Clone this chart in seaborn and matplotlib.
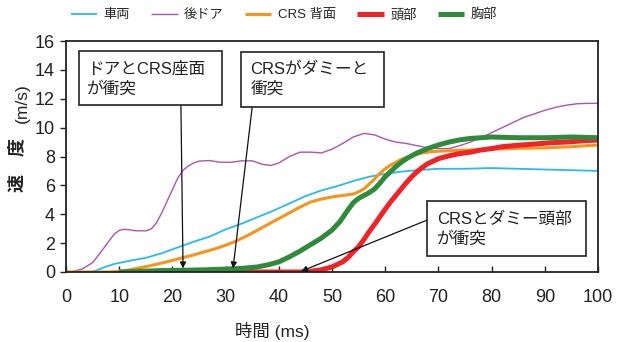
import matplotlib
matplotlib.use("Agg")
import matplotlib.pyplot as plt
from matplotlib.patches import Rectangle
import seaborn as sns
import pandas as pd

# Velocity traces (time in ms, speed in m/s)
vehicle_t = [0, 5, 7, 9, 12, 15, 18, 21, 24, 27, 30, 33, 36, 39, 42, 45, 48, 51, 54, 57,
             60, 63, 66, 70, 75, 80, 85, 90, 95, 100]
vehicle_v = [0, 0, 0.3, 0.55, 0.78, 0.98, 1.3, 1.7, 2.1, 2.45, 2.95, 3.35, 3.8, 4.25, 4.75,
             5.25, 5.65, 5.95, 6.3, 6.6, 6.8, 6.95, 7.05, 7.15, 7.15, 7.2, 7.15, 7.1, 7.05, 7.0]

door_t = [0, 1, 3, 5, 7, 8, 9, 10, 11, 12, 13, 15, 16, 17, 18, 19, 20, 21, 22, 23, 24, 25,
          27, 29, 31, 33, 35, 37, 38.5, 40, 42, 44, 46, 48, 50, 52, 54, 56, 58, 60, 62, 64,
          66, 68, 70, 72, 74, 76, 78, 80, 82, 84, 86, 88, 90, 92, 94, 96, 98, 100]
door_v = [0, 0, 0.2, 0.65, 1.6, 2.1, 2.6, 2.88, 2.96, 2.92, 2.86, 2.85, 2.98, 3.4, 4.1, 4.9,
          5.7, 6.5, 7.05, 7.35, 7.55, 7.68, 7.72, 7.6, 7.6, 7.7, 7.7, 7.45, 7.38, 7.55, 8.0,
          8.3, 8.3, 8.25, 8.5, 8.9, 9.35, 9.6, 9.5, 9.2, 9.0, 8.9, 8.75, 8.6, 8.55, 8.55,
          8.75, 9.0, 9.3, 9.65, 10.0, 10.35, 10.7, 10.95, 11.2, 11.4, 11.55, 11.65, 11.68,
          11.68]

back_t = [0, 8, 10, 12, 14, 16, 18, 20, 22, 24, 26, 28, 30, 32, 34, 36, 38, 40, 42, 44, 46,
          48, 50, 52, 54, 55, 56, 57, 58, 59, 60, 61, 62, 63, 65, 67, 69, 72, 76, 80, 85,
          90, 95, 100]
back_v = [0, 0, 0.05, 0.15, 0.3, 0.45, 0.62, 0.8, 1.0, 1.18, 1.4, 1.6, 1.85, 2.15, 2.5, 2.9,
          3.3, 3.7, 4.1, 4.5, 4.85, 5.05, 5.2, 5.3, 5.4, 5.55, 5.75, 6.1, 6.45, 6.83, 7.15,
          7.4, 7.6, 7.8, 8.05, 8.25, 8.35, 8.4, 8.45, 8.5, 8.57, 8.6, 8.68, 8.8]

head_t = [14, 44, 46, 48, 50, 52, 53, 54, 55, 56, 57, 58, 59, 60, 61, 62, 63, 64, 65, 66,
          67, 68, 70, 72, 74, 76, 78, 80, 82, 85, 88, 91, 94, 97, 100]
head_v = [0, 0, 0.05, 0.15, 0.35, 0.7, 1.0, 1.4, 1.75, 2.25, 2.8, 3.3, 3.83, 4.35, 4.85,
          5.3, 5.75, 6.2, 6.6, 6.95, 7.25, 7.5, 7.85, 8.05, 8.2, 8.3, 8.45, 8.55, 8.68,
          8.78, 8.86, 8.95, 9.0, 9.08, 9.14]

chest_t = [10, 14, 18, 22, 26, 30, 33, 36, 38, 40, 42, 44, 46, 48, 50, 51.5, 53, 54, 55,
           56, 57, 58, 59, 60, 61, 62, 63, 64, 66, 68, 70, 72, 74, 76, 78, 80, 85, 90, 95,
           100]
chest_v = [0, 0.05, 0.1, 0.12, 0.15, 0.2, 0.25, 0.35, 0.5, 0.7, 1.05, 1.45, 1.9, 2.35, 2.9,
           3.5, 4.3, 4.8, 5.1, 5.3, 5.5, 5.75, 6.15, 6.6, 6.95, 7.3, 7.6, 7.85, 8.25, 8.55,
           8.8, 9.0, 9.15, 9.25, 9.3, 9.35, 9.3, 9.3, 9.35, 9.3]

series_names = ["車両", "後ドア", "CRS 背面", "頭部", "胸部"]
series_colors = ["#2bb8ec", "#aa55b0", "#f7941d", "#ee2428", "#2f8a3c"]
series_widths = [1.3, 1.0, 2.2, 3.6, 3.6]
x_ticks = list(range(0, 101, 10))
y_ticks = list(range(0, 17, 2))

sns.set_theme(style="white")
plt.rcParams["font.family"] = ["Liberation Sans", "Noto Sans CJK JP", "DejaVu Sans"]

fig = plt.figure(figsize=(6.17, 3.42), dpi=100)
ax = fig.add_axes([66 / 617, 70 / 342, 532 / 617, 231 / 342])

data = [(vehicle_t, vehicle_v), (door_t, door_v), (back_t, back_v),
        (head_t, head_v), (chest_t, chest_v)]
for (t, v), name, col, lw in zip(data, series_names, series_colors, series_widths):
    df = pd.DataFrame({"time": t, "speed": v})
    sns.lineplot(data=df, x="time", y="speed", ax=ax, color=col, linewidth=lw,
                 label=name, solid_capstyle="butt")
handles, labels = ax.get_legend_handles_labels()
ax.get_legend().remove()

ax.set_xlim(0, 100)
ax.set_ylim(0, 16)
ax.set_xticks(x_ticks)
ax.set_yticks(y_ticks)
ax.tick_params(axis="x", direction="in", length=4, width=1, pad=12.5, labelsize=13,
               colors="#222222")
ax.tick_params(axis="y", direction="out", length=4, width=1, pad=4, labelsize=13,
               colors="#222222")
ax.tick_params(bottom=True, left=True)
for s in ax.spines.values():
    s.set_color("#222222")
    s.set_linewidth(1.3)
ax.set_xlabel("")
ax.set_ylabel("")

# Annotation boxes with arrows
boxes = [
    dict(rect=(2.4, 11.57, 26.9, 3.73), text="ドアとCRS座面\nが衝突", txt=(4.0, 13.35),
         start=(21.6, 11.57), tip=(22.0, 0.25)),
    dict(rect=(32.9, 11.43, 26.9, 3.8), text="CRSがダミーと\n衝突", txt=(34.7, 13.35),
         start=(35.0, 11.43), tip=(31.4, 0.25)),
    dict(rect=(67.9, 1.13, 29.8, 3.79), text="CRSとダミー頭部\nが衝突", txt=(69.7, 2.95),
         start=(67.9, 3.6), tip=(44.2, 0.05)),
]
for b in boxes:
    ax.annotate("", xy=b["tip"], xytext=b["start"],
                arrowprops=dict(arrowstyle="-|>", color="#111111", lw=0.9,
                                mutation_scale=9, shrinkA=0, shrinkB=0), zorder=6)
    x0, y0, w, h = b["rect"]
    ax.add_patch(Rectangle((x0, y0), w, h, facecolor="white", edgecolor="#222222",
                           linewidth=1.2, zorder=7))
    ax.text(b["txt"][0], b["txt"][1], b["text"], ha="left", va="center", fontsize=12,
            linespacing=1.35, color="#222222", zorder=8)

# Axis titles
fig.text(272 / 617, 1 - 331 / 342, "時間 (ms)", ha="center", va="center", fontsize=12.5,
         color="#222222")
fig.text(18 / 617, 1 - 165 / 342, "速\u3000度", ha="center", va="center", rotation=90,
         fontsize=13, fontweight="bold", color="#222222")
fig.text(22 / 617, 1 - 103 / 342, "(m/s)", ha="center", va="center", rotation=90,
         fontsize=12.5, color="#222222")

fig.legend(handles, labels, loc="center", bbox_to_anchor=(284 / 617, 1 - 15 / 342),
           ncol=5, frameon=False, fontsize=9.5, handlelength=2.0, columnspacing=1.6,
           handletextpad=0.5)

fig.savefig("out.png", dpi=100)
